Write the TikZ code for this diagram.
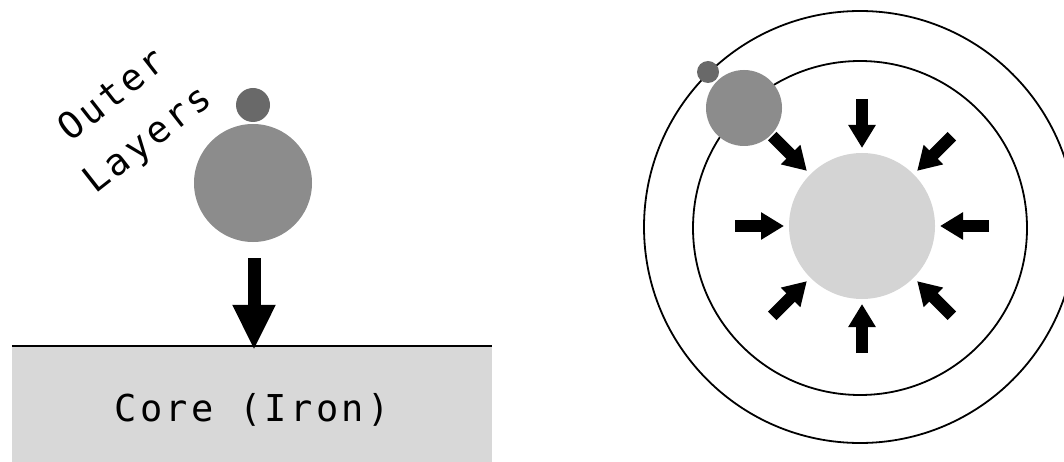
\documentclass[tikz,border=0pt]{standalone}
\usepackage{fontspec}
\newfontfamily\handfont[LetterSpace=9]{DejaVu Sans Mono}
\usetikzlibrary{arrows.meta,calc}
\definecolor{darkball}{RGB}{105,105,105}
\definecolor{midball}{RGB}{140,140,140}
\definecolor{lightcore}{RGB}{212,212,212}
\definecolor{boxgray}{RGB}{216,216,216}
\tikzset{
  ball/.style={circle,inner sep=0pt,draw=none},
  ring/.style={draw=black,line width=1.8pt},
  inarrow/.style={line width=12pt,-{Triangle[width=26pt,length=23pt]}},
  downarrow/.style={line width=13pt,-{Triangle[width=40pt,length=45pt]}},
  handtext/.style={font=\handfont\fontsize{37}{44}\selectfont,inner sep=0pt}
}
\begin{document}
\begin{tikzpicture}[x=1pt,y=-1pt]
\useasboundingbox (0,0) rectangle (1064,462);
% ---------- left ----------
\node[fill=boxgray,minimum width=480pt,minimum height=116pt,inner sep=0pt] (corebox) at (252,404) {};
\draw[line width=1.8pt] (corebox.north west) -- (corebox.north east);
\node[handtext] (coretext) at (252,410) {Core (Iron)};
\node[ball,fill=darkball,minimum size=34pt] (ldrop) at (253,105) {};
\node[ball,fill=midball,minimum size=118pt] (lball) at (253,183) {};
\node[handtext,rotate=38] (outer) at (111,94) {Outer};
\node[handtext,rotate=38] (layers) at (149,141) {Layers};
\coordinate (ltail) at (254,258);
\draw[downarrow] (ltail) -- ([yshift=-4pt]corebox.north -| ltail);
% ---------- right ----------
\node[circle,ring,minimum size=432pt,inner sep=0pt] (outring) at (860,227) {};
\node[circle,ring,minimum size=334pt,inner sep=0pt] (inring) at (860,228) {};
\node[ball,fill=lightcore,minimum size=146pt] (core) at (862,226) {};
\node[ball,fill=midball,minimum size=76pt] (rball) at (744,108) {};
\node[ball,fill=darkball,minimum size=22pt] (rdrop) at (708,72) {};
\foreach \a in {0,45,...,315}{
  \draw[inarrow] ($(core.center)+(\a:127)$) -- ($(core.center)+(\a:78)$);
}
\end{tikzpicture}
\end{document}
